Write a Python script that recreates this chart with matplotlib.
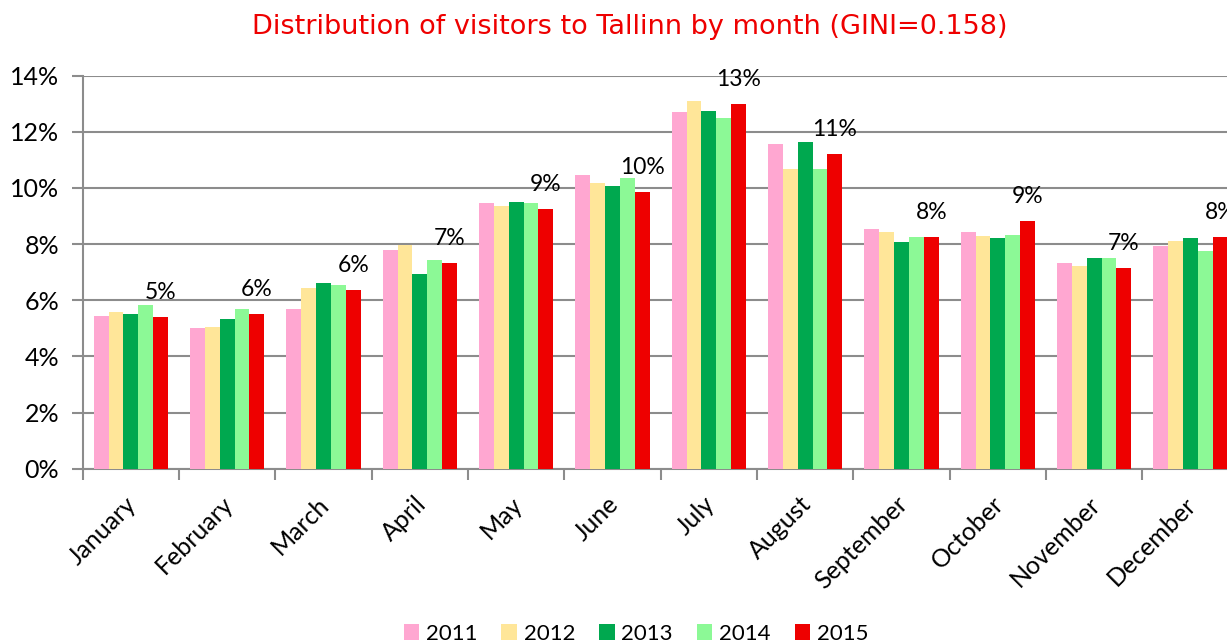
import matplotlib
matplotlib.use("Agg")
import matplotlib.pyplot as plt
from matplotlib.patches import Patch
from matplotlib.transforms import ScaledTranslation
import numpy as np

months = ["January", "February", "March", "April", "May", "June", "July",
          "August", "September", "October", "November", "December"]
years = ["2011", "2012", "2013", "2014", "2015"]
v2011 = [5.43, 5.00, 5.69, 7.80, 9.46, 10.44, 12.70, 11.55, 8.55, 8.41, 7.31, 7.94]
v2012 = [5.59, 5.06, 6.44, 7.95, 9.35, 10.18, 13.10, 10.67, 8.41, 8.28, 7.23, 8.10]
v2013 = [5.51, 5.34, 6.62, 6.92, 9.50, 10.06, 12.74, 11.64, 8.06, 8.20, 7.51, 8.20]
v2014 = [5.82, 5.70, 6.55, 7.44, 9.46, 10.36, 12.49, 10.66, 8.24, 8.31, 7.51, 7.75]
v2015 = [5.41, 5.52, 6.35, 7.31, 9.24, 9.85, 13.00, 11.19, 8.24, 8.82, 7.16, 8.25]
series = [v2011, v2012, v2013, v2014, v2015]
colors = ["#FFA7D1", "#FFE699", "#00A84F", "#8CF996", "#EE0000"]
yticks = [0, 2, 4, 6, 8, 10, 12, 14]

font = ["Lato", "DejaVu Sans"]
plt.rcParams["font.family"] = font

fig = plt.figure(figsize=(12.27, 6.44), dpi=100)
ax = fig.add_axes([82.7 / 1227, 1 - 468.7 / 644, 1156 / 1227, (468.7 - 75.5) / 644])

x = np.arange(len(months))
w = 0.154
grid_c = "#8C8C8C"
for i, (vals, col) in enumerate(zip(series, colors)):
    ax.bar(x + (i - 2) * w, vals, width=w, color=col, zorder=3, label=years[i])
    if i == 4:
        for xi, v in zip(x + (i - 2) * w, vals):
            ax.annotate(f"{v:.0f}%", (xi, v), xytext=(0, 13), textcoords="offset points",
                        ha="center", va="baseline", fontsize=16.5, color="black", zorder=4,
                        annotation_clip=False)

ax.set_xlim(-0.5, 11.5)
ax.set_ylim(0, 14)
ax.set_yticks(yticks)
ax.set_yticklabels([f"{t}%" for t in yticks], fontsize=18)
ax.yaxis.grid(True, color=grid_c, linewidth=1.5, zorder=0)
ax.tick_params(axis="y", direction="out", length=8, width=1.5, color=grid_c, pad=9)

ax.set_xticks(x)
ax.set_xticklabels(months, fontsize=18, rotation=45, ha="right", rotation_mode="anchor")
ax.tick_params(axis="x", which="major", length=0, pad=17)
offset = ScaledTranslation(-6 / 100, 0, fig.dpi_scale_trans)
for lbl in ax.get_xticklabels():
    lbl.set_transform(lbl.get_transform() + offset)
ax.set_xticks(np.arange(-0.5, 12, 1), minor=True)
ax.tick_params(axis="x", which="minor", direction="out", length=8, width=1.5, color=grid_c)

for s in ["top", "right"]:
    ax.spines[s].set_visible(False)
for s in ["left", "bottom"]:
    ax.spines[s].set_color(grid_c)
    ax.spines[s].set_linewidth(1.5)

fig.text(630 / 1227, 1 - 27 / 644, "Distribution of visitors to Tallinn by month (GINI=0.158)",
         ha="center", va="center", color="#EE0000", fontsize=19.5, family=["DejaVu Sans"])

handles = [Patch(facecolor=c, edgecolor="none") for c in colors]
fig.legend(handles, years, loc="center", bbox_to_anchor=(636 / 1227, 1 - 634 / 644),
           ncol=5, frameon=False, fontsize=16, handlelength=0.7, handleheight=0.7,
           handletextpad=0.3, columnspacing=1.08, borderpad=0.2)

fig.savefig("out.png", dpi=100)
